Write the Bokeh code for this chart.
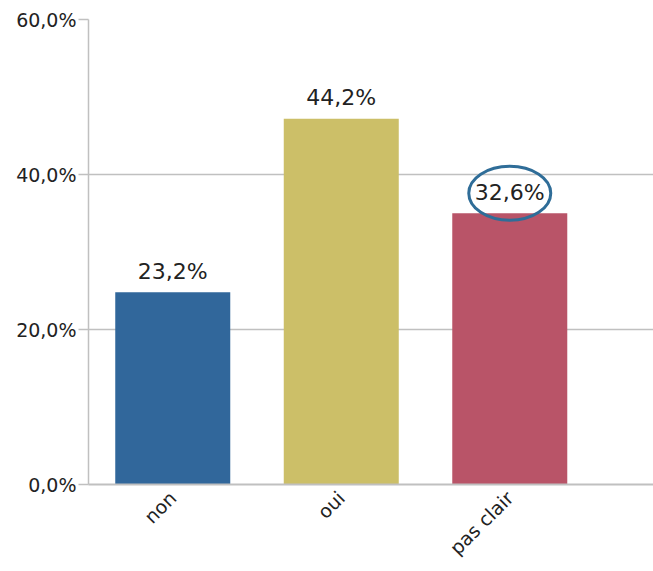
import math
from bokeh.plotting import figure
from bokeh.models import ColumnDataSource, FixedTicker, Range1d
from bokeh.core.properties import value
from bokeh.embed import file_html
from bokeh.resources import INLINE

# ---- data ----
categories = ["non", "oui", "pas clair"]
bar_values = [24.8, 47.2, 35.0]          # bar heights as drawn (%)
value_labels = ["23,2%", "44,2%", "32,6%"]  # printed labels
colors = ["#31679b", "#ccbf68", "#b95468"]
y_ticks = [0, 20, 40, 60]
y_tick_labels = ["0,0%", "20,0%", "40,0%", "60,0%"]
highlight_index = 2

FONT = "DejaVu Sans"
xs = [i + 0.5 for i in range(len(categories))]

src = ColumnDataSource(dict(x=xs, top=bar_values, color=colors, label=value_labels))

W, H = 653, 571
TOP, LEFT, BOTTOM = 19, 88, 87
frame_h = H - TOP - BOTTOM
y0, y1 = 0, 60

p = figure(width=W, height=H, output_backend="svg", toolbar_location=None,
           x_range=Range1d(0, 3.353), y_range=Range1d(y0, y1),
           min_border_top=TOP, min_border_left=LEFT, min_border_bottom=BOTTOM,
           min_border_right=0)
p.outline_line_color = None
p.background_fill_color = "white"
p.border_fill_color = "white"

p.vbar(x="x", top="top", width=0.6825, bottom=0, color="color", source=src, line_color=None)

p.text(x="x", y="top", text="label", source=src, y_offset=-21,
       text_align="center", text_baseline="middle",
       text_font=value(FONT), text_font_size="22px", text_color="#222222")

# highlight ellipse around one label
px_per_unit = frame_h / (y1 - y0)
p.ellipse(x=[xs[highlight_index]], y=[bar_values[highlight_index] + 20 / px_per_unit],
          width=82, height=54, width_units="screen", height_units="screen",
          fill_color=None, line_color="#2f6d98", line_width=3)

# axes
p.xaxis.ticker = FixedTicker(ticks=xs)
p.xaxis.major_label_overrides = {x: c for x, c in zip(xs, categories)}
p.xaxis.major_label_orientation = math.pi / 4
p.xaxis.major_tick_line_color = None
p.xaxis.major_tick_out = 0
p.xaxis.major_tick_in = 0
p.xaxis.minor_tick_line_color = None
p.xaxis.axis_line_color = "#c0c0c0"
p.xaxis.axis_line_width = 2
p.xaxis.major_label_text_font = FONT
p.xaxis.major_label_text_font_size = "19px"
p.xaxis.major_label_text_color = "#222222"
p.xaxis.major_label_standoff = 10

p.yaxis.ticker = FixedTicker(ticks=y_ticks)
p.yaxis.major_label_overrides = {t: l for t, l in zip(y_ticks, y_tick_labels)}
p.yaxis.axis_line_color = "#c0c0c0"
p.yaxis.axis_line_width = 1.5
p.yaxis.major_tick_line_color = "#c0c0c0"
p.yaxis.major_tick_line_width = 1.5
p.yaxis.major_tick_out = 10
p.yaxis.major_tick_in = 0
p.yaxis.minor_tick_line_color = None
p.yaxis.major_label_text_font = FONT
p.yaxis.major_label_text_font_size = "19px"
p.yaxis.major_label_text_color = "#222222"
p.yaxis.major_label_standoff = 2

p.xgrid.grid_line_color = None
p.ygrid.ticker = FixedTicker(ticks=y_ticks[1:])
p.ygrid.grid_line_color = "#c0c0c0"
p.ygrid.grid_line_width = 1.5

open("out.html", "w").write(file_html(p, INLINE))
